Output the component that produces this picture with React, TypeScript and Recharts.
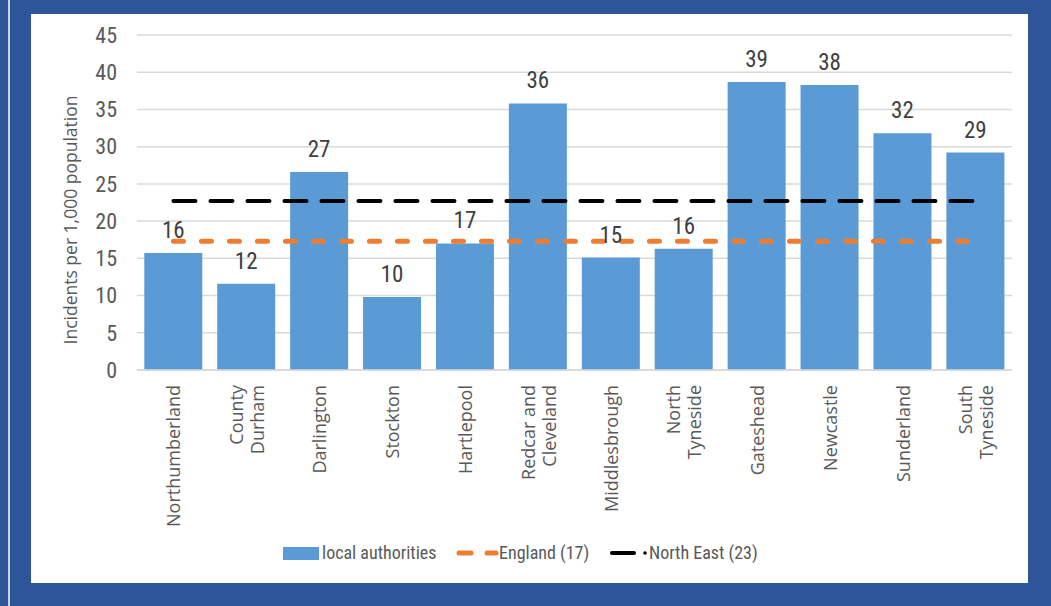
import React from 'react';
import { ComposedChart, Bar, Line, XAxis, YAxis, CartesianGrid, LabelList } from 'recharts';

// Local authorities (line breaks as in the source axis)
const authorities = [
  'Northumberland',
  'County\nDurham',
  'Darlington',
  'Stockton',
  'Hartlepool',
  'Redcar and\nCleveland',
  'Middlesbrough',
  'North\nTyneside',
  'Gateshead',
  'Newcastle',
  'Sunderland',
  'South\nTyneside',
];

// Incidents per 1,000 population
const localRates = [15.7, 11.6, 26.6, 9.8, 17.0, 35.8, 15.1, 16.3, 38.7, 38.3, 31.8, 29.2];
const englandRates = [17.3, 17.3, 17.3, 17.3, 17.3, 17.3, 17.3, 17.3, 17.3, 17.3, 17.3, 17.3];
const northEastRates = [22.7, 22.7, 22.7, 22.7, 22.7, 22.7, 22.7, 22.7, 22.7, 22.7, 22.7, 22.7];

const yTicks = [0, 5, 10, 15, 20, 25, 30, 35, 40, 45];

const data = authorities.map((name, i) => ({
  name,
  local: localRates[i],
  england: englandRates[i],
  northEast: northEastRates[i],
}));

const BLUE = '#5B9BD5';
const ORANGE = '#ED7D31';
const TEXT = '#595959';
const NARROW = "'Liberation Sans Narrow', 'Roboto Condensed', Roboto, sans-serif";
const SANS = "'Open Sans', 'Noto Sans', sans-serif";

// rotated, possibly multi-line category label
const CategoryTick = (props: any) => {
  const { x, y, payload } = props;
  const lines = String(payload.value).split('\n');
  const spacing = 21;
  return (
    <g>
      {lines.map((line, i) => {
        const lx = x + (i - (lines.length - 1) / 2) * spacing;
        return (
          <text
            key={i}
            x={lx}
            y={y}
            transform={`rotate(-90, ${lx}, ${y})`}
            textAnchor="end"
            dominantBaseline="central"
            fontFamily={SANS}
            fontSize={18}
            fill={TEXT}
          >
            {line}
          </text>
        );
      })}
    </g>
  );
};

const Legend = () => (
  <svg width={997} height={40} style={{ position: 'absolute', left: 0, top: 522 }}>
    <rect x={252} y={11} width={36} height={13} fill={BLUE} />
    <text x={291} y={23} fontFamily={NARROW} fontSize={18} fill={TEXT}>local authorities</text>
    <line x1={428} y1={17} x2={440} y2={17} stroke={ORANGE} strokeWidth={5} strokeLinecap="round" />
    <line x1={456} y1={17} x2={465} y2={17} stroke={ORANGE} strokeWidth={5} strokeLinecap="round" />
    <text x={468} y={23} fontFamily={NARROW} fontSize={18} fill={TEXT}>England (17)</text>
    <line x1={581} y1={17} x2={603} y2={17} stroke="#000" strokeWidth={4} strokeLinecap="round" />
    <circle cx={614} cy={17} r={1.8} fill="#000" />
    <text x={618} y={23} fontFamily={NARROW} fontSize={18} fill={TEXT}>North East (23)</text>
  </svg>
);

export default function App() {
  return (
    <div style={{ position: 'absolute', left: 0, top: 0, width: 1051, height: 606, background: '#2E5597', overflow: 'hidden' }}>
      <div style={{ position: 'absolute', left: 8, top: 0, width: 2, height: 606, background: '#C9D1E1' }} />
      <div style={{ position: 'absolute', left: 31, top: 14, width: 997, height: 569, background: '#fff' }}>
        <ComposedChart
          width={997}
          height={569}
          data={data}
          margin={{ top: 21, right: 16, bottom: 53, left: 46 }}
          barCategoryGap="10%"
        >
          <CartesianGrid vertical={false} stroke="#D9D9D9" strokeWidth={1.5} />
          <XAxis
            dataKey="name"
            interval={0}
            height={160}
            tickLine={false}
            axisLine={{ stroke: '#D9D9D9', strokeWidth: 1.5 }}
            tick={<CategoryTick />}
            tickSize={0}
            tickMargin={15}
          />
          <YAxis
            width={60}
            domain={[0, 45]}
            ticks={yTicks}
            tickLine={false}
            axisLine={false}
            tickSize={0}
            tickMargin={20}
            tick={{ fontFamily: NARROW, fontSize: 22, fill: TEXT }}
            label={{
              content: () => (
                <text
                  x={39}
                  y={206}
                  transform="rotate(-90, 39, 206)"
                  textAnchor="middle"
                  dominantBaseline="central"
                  fontFamily={SANS}
                  fontSize={17.5}
                  fill={TEXT}
                >
                  Incidents per 1,000 population
                </text>
              ),
            }}
          />
          <Bar dataKey="local" fill={BLUE} isAnimationActive={false}>
            <LabelList
              dataKey="local"
              position="top"
              offset={15}
              formatter={(v: any) => Math.round(Number(v))}
              style={{ fontFamily: NARROW, fontSize: 23, fill: '#404040' }}
            />
          </Bar>
          <Line
            dataKey="england"
            stroke={ORANGE}
            strokeWidth={5}
            strokeDasharray="10 18"
            strokeLinecap="round"
            dot={false}
            activeDot={false}
            isAnimationActive={false}
          />
          <Line
            dataKey="northEast"
            stroke="#000"
            strokeWidth={4}
            strokeDasharray="22 15"
            strokeLinecap="round"
            dot={false}
            activeDot={false}
            isAnimationActive={false}
          />
        </ComposedChart>
        <Legend />
      </div>
    </div>
  );
}
